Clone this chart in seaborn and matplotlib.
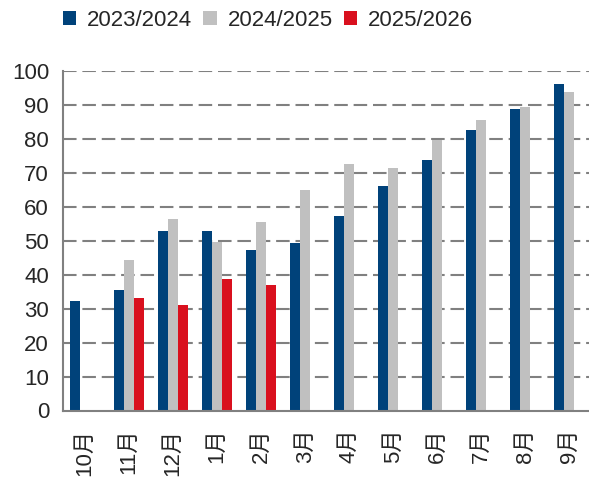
import numpy as np
import pandas as pd
import matplotlib
matplotlib.use("Agg")
import matplotlib.pyplot as plt
import seaborn as sns
from matplotlib import font_manager

months = ["10月", "11月", "12月", "1月", "2月", "3月", "4月", "5月", "6月", "7月", "8月", "9月"]
series_names = ["2023/2024", "2024/2025", "2025/2026"]
s2324 = [32.3, 35.6, 52.9, 52.9, 47.4, 49.3, 57.4, 66.0, 73.9, 82.7, 88.7, 96.3]
s2425 = [np.nan, 44.3, 56.5, 49.7, 55.5, 65.0, 72.6, 71.5, 79.6, 85.5, 89.5, 93.8]
s2526 = [np.nan, 33.2, 31.0, 38.8, 37.1, np.nan, np.nan, np.nan, np.nan, np.nan, np.nan, np.nan]
colors = ["#00427A", "#C0C0C0", "#D9101E"]
yticks = [0, 10, 20, 30, 40, 50, 60, 70, 80, 90, 100]

rows = []
for name, vals in zip(series_names, [s2324, s2425, s2526]):
    for m, v in zip(months, vals):
        rows.append({"month": m, "season": name, "value": v})
df = pd.DataFrame(rows)

sns.set_theme(style="white")
plt.rcParams["font.family"] = ["Liberation Sans", "Noto Sans CJK SC", "DejaVu Sans"]

available = {f.name for f in font_manager.fontManager.ttflist}
if "Liberation Sans Narrow" in available:
    legend_font = {"family": ["Liberation Sans Narrow"], "size": 19}
else:
    legend_font = {"family": ["Liberation Sans"], "size": 16}

fig = plt.figure(figsize=(5.89, 4.83), dpi=100)
ax = fig.add_axes([63 / 589, 1 - 410.5 / 483, 528 / 589, (410.5 - 71) / 483])

sns.barplot(data=df, x="month", y="value", hue="season", order=months,
            hue_order=series_names, palette=colors, width=0.66, ax=ax,
            errorbar=None, saturation=1, linewidth=0, legend=True)

ax.set_xlim(-0.5, len(months) - 0.5)
ax.set_ylim(0, 100)
ax.set_yticks(yticks)
ax.set_yticklabels([str(t) for t in yticks], fontsize=16)
ax.set_xlabel("")
ax.set_ylabel("")

for t in yticks[1:]:
    ax.axhline(t, color="#808080", lw=1.5, linestyle=(0, (6.5, 2.8)), zorder=0)

ax.set_xticks(np.arange(len(months)))
ax.set_xticklabels(months, rotation=90, fontsize=16)
ax.tick_params(axis="x", length=0, pad=13)
ax.set_xticks(np.arange(len(months)) - 0.5, minor=True)
ax.tick_params(axis="x", which="minor", length=10, width=1.5, color="#808080", direction="out")
ax.tick_params(axis="y", length=16, width=1.5, color="#808080", direction="inout", pad=2)

for s in ["top", "right"]:
    ax.spines[s].set_visible(False)
for s in ["left", "bottom"]:
    ax.spines[s].set_color("#808080")
    ax.spines[s].set_linewidth(1.5)
ax.set_axisbelow(True)

handles, labels = ax.get_legend_handles_labels()
ax.legend_.remove()
fig.legend(handles, labels, loc="center", bbox_to_anchor=(268 / 589, 1 - 20 / 483),
           ncol=3, frameon=False, prop=legend_font, handlelength=0.6, handleheight=0.6,
           handletextpad=0.5, columnspacing=0.5, borderaxespad=0)

fig.savefig("out.png", dpi=100)
